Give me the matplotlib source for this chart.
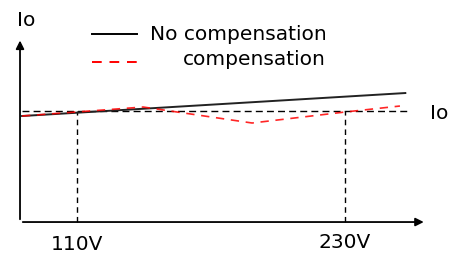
import matplotlib.pyplot as plt

plt.rcParams['font.family'] = ['DejaVu Sans']

# voltage (V) vs output current (relative to Io)
v_nocomp = [85.4, 257.0]
i_nocomp = [0.955, 1.162]

v_comp = [85.4, 139.6, 188.4, 230.0, 254.6]
i_comp = [0.955, 1.036, 0.892, 0.991, 1.045]

io_level = 1.0
io_range = [85.4, 257.8]
marked_volts = [110, 230]
marked_labels = ['110V', '230V']

fig = plt.figure(figsize=(4.68, 2.63), dpi=100)
ax = fig.add_axes([0, 0, 1, 1])
ax.set_xlim(75.52, 285.07)
ax.set_ylim(-0.369, 2.0)
ax.axis('off')

# axes with arrows
x0, y0 = 84.48, 0.0
ax.annotate('', xy=(x0, 1.66), xytext=(x0, y0),
            arrowprops=dict(arrowstyle='-|>', color='black', lw=1.3, mutation_scale=12))
ax.annotate('', xy=(266.5, y0), xytext=(x0, y0),
            arrowprops=dict(arrowstyle='-|>', color='black', lw=1.3, mutation_scale=12))

ax.plot(io_range, [io_level, io_level], color='black', lw=1, ls=(0, (5, 3)))
for v in marked_volts:
    ax.plot([v, v], [0, io_level], color='black', lw=1, ls=(0, (4, 3)))

ax.plot(v_nocomp, i_nocomp, color='#222222', lw=1.4)
ax.plot(v_comp, i_comp, color='red', lw=1.2, ls=(0, (5, 4)), alpha=0.85)

fs = 14.5
for v, lab, yb in zip(marked_volts, marked_labels, [-0.252, -0.234]):
    ax.text(v, yb, lab, ha='center', va='baseline', fontsize=fs)

ax.text(0.036, 0.901, 'Io', transform=ax.transAxes, ha='left', va='baseline', fontsize=fs)
ax.text(0.919, 0.5475, 'Io', transform=ax.transAxes, ha='left', va='baseline', fontsize=fs)

# legend drawn by hand
ax.plot([0.197, 0.293], [0.871, 0.871], transform=ax.transAxes, color='black', lw=1.4)
ax.plot([0.197, 0.293], [0.764, 0.764], transform=ax.transAxes, color='red', lw=1.4, ls=(0, (5, 4)))
ax.text(0.3205, 0.848, 'No compensation', transform=ax.transAxes, va='baseline', fontsize=fs)
ax.text(0.391, 0.753, 'compensation', transform=ax.transAxes, va='baseline', fontsize=fs)

fig.savefig('out.png', dpi=100)
